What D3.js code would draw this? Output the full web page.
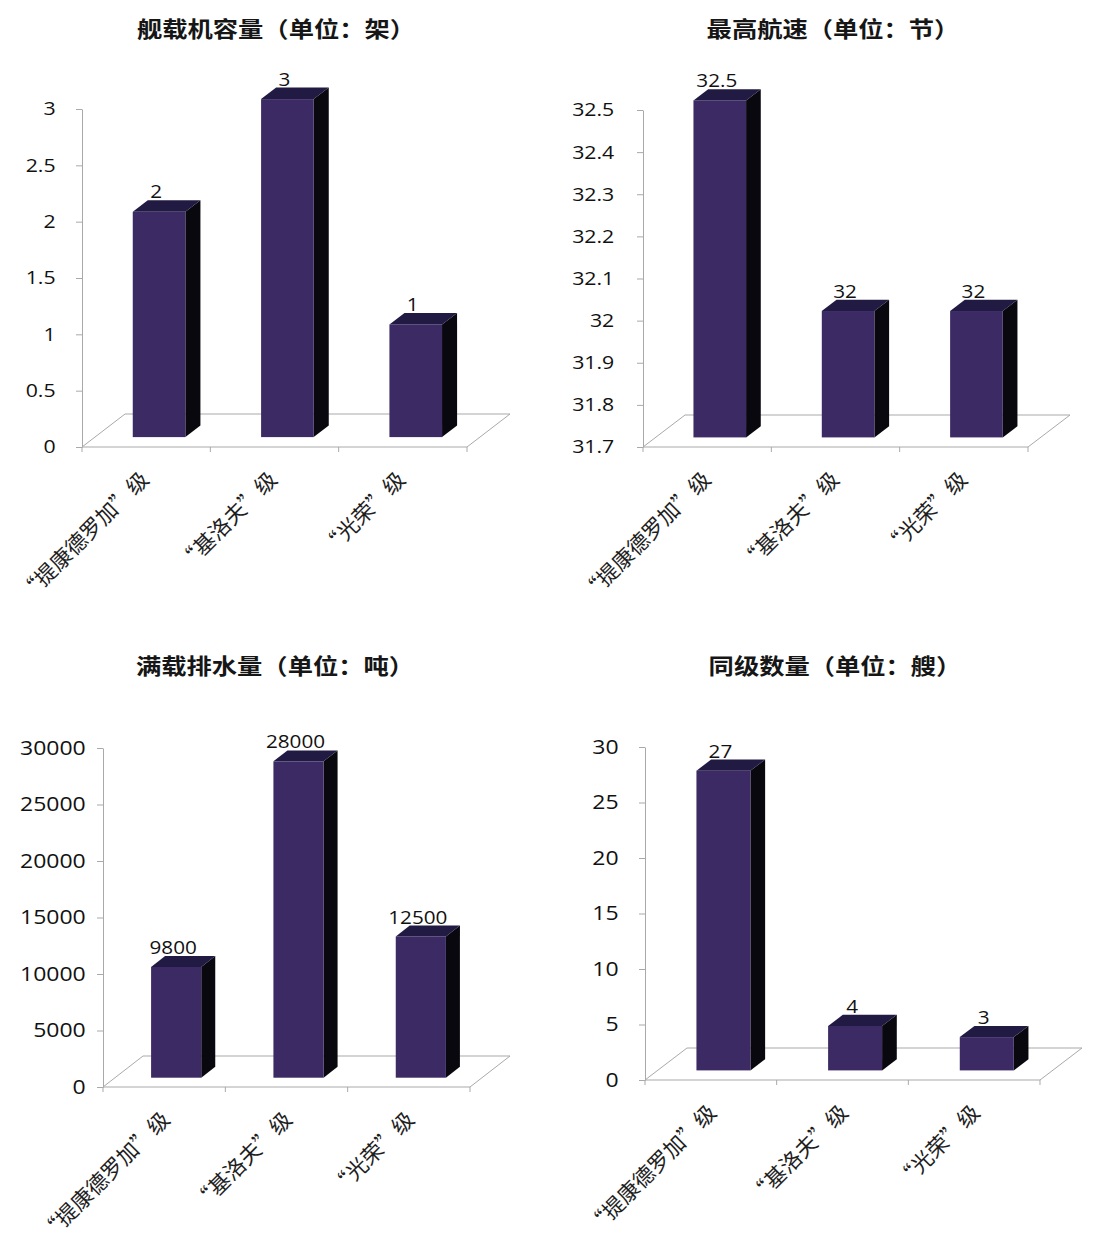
<!DOCTYPE html>
<html>
<head>
<meta charset="utf-8">
<script src="https://cdn.jsdelivr.net/npm/d3@7"></script>
<style>
  html, body { margin: 0; padding: 0; background: #ffffff; }
  svg { display: block; }
  .num { font-family: "Open Sans", "Liberation Sans", sans-serif; fill: #111; font-weight: 500; }
  .cat { font-family: "Noto Sans CJK SC", sans-serif; fill: #1e1e1e; }
  .ttl { font-family: "Noto Sans CJK SC", sans-serif; font-weight: 700; fill: #161616; }
</style>
</head>
<body>
<svg id="chart" width="1093" height="1249"></svg>
<script>
// Ship classes compared in every panel
const categories = ["“提康德罗加”级", "“基洛夫”级", "“光荣”级"];

// Series values, one array per panel
const aircraftCapacity = [2, 3, 1];
const maxSpeed = [32.5, 32, 32];
const displacement = [9800, 28000, 12500];
const shipsInClass = [27, 4, 3];

// Value-axis tick labels
const aircraftTicks = [0, 0.5, 1, 1.5, 2, 2.5, 3];
const speedTicks = [31.7, 31.8, 31.9, 32, 32.1, 32.2, 32.3, 32.4, 32.5];
const displacementTicks = [0, 5000, 10000, 15000, 20000, 25000, 30000];
const shipsTicks = [0, 5, 10, 15, 20, 25, 30];

// Panel titles
const titles = ["舰载机容量（单位：架）", "最高航速（单位：节）", "满载排水量（单位：吨）", "同级数量（单位：艘）"];

const svg = d3.select("#chart");
const SX = 1.15;          // horizontal text stretch
const FRONT = "#3b2a64", TOP = "#211a42", SIDE = "#08080e";
const GRID = "#a9a9a9";

function drawPanel(cfg, values, ticks, title) {
  const g = svg.append("g");
  const { ax, y0, yTop, xRight, dx, dy } = cfg;

  const y = d3.scaleLinear().domain([ticks[0], ticks[ticks.length - 1]]).range([y0, yTop]);
  const x = d3.scaleBand().domain(categories).range([ax, xRight]);

  // floor of the 3-D plot area
  g.append("path")
    .attr("d", `M${ax},${y0} L${xRight},${y0} L${xRight + dx},${y0 + dy} L${ax + dx},${y0 + dy} Z`)
    .attr("fill", "none").attr("stroke", GRID).attr("stroke-width", 1);

  // category ticks at band edges
  const edges = categories.map(c => x(c)).concat([xRight]);
  g.selectAll("line.xt").data(edges).join("line")
    .attr("x1", d => d).attr("x2", d => d)
    .attr("y1", y0).attr("y2", y0 + 5)
    .attr("stroke", GRID);

  // value axis
  const yAxis = g.append("g")
    .attr("transform", `translate(${ax},0)`)
    .call(d3.axisLeft(y).tickValues(ticks).tickSize(6).tickSizeOuter(0)
      .tickPadding(cfg.pad).tickFormat(d => String(d)));
  yAxis.select(".domain").attr("stroke", GRID);
  yAxis.selectAll(".tick line").attr("stroke", GRID);
  yAxis.selectAll(".tick text")
    .attr("class", "num")
    .attr("font-size", cfg.tickFont)
    .attr("transform", `scale(${SX},1)`)
    .attr("fill", "#111");

  // 3-D columns
  const f = 0.3, sx = f * dx, sy = f * dy;
  const bdx = 0.35 * dx, bdy = 0.35 * dy;
  const bw = x.bandwidth() * 0.41;
  const bars = g.selectAll("g.bar").data(values.map((v, i) => ({ v, c: categories[i] }))).join("g");
  bars.each(function (d) {
    const b = d3.select(this);
    const l = x(d.c) + (x.bandwidth() - bw) / 2 + sx;
    const r = l + bw;
    const t = y(d.v) + sy;
    const bot = y0 + sy;
    b.append("path")
      .attr("d", `M${r},${t} L${r + bdx},${t + bdy} L${r + bdx},${bot + bdy} L${r},${bot} Z`)
      .attr("fill", SIDE);
    b.append("path")
      .attr("d", `M${l},${t} L${l + bdx},${t + bdy} L${r + bdx},${t + bdy} L${r},${t} Z`)
      .attr("fill", TOP);
    b.append("rect")
      .attr("x", l).attr("y", t).attr("width", bw).attr("height", bot - t)
      .attr("fill", FRONT);
    b.append("text")
      .attr("class", "num")
      .attr("font-size", cfg.valFont)
      .attr("text-anchor", "middle")
      .attr("transform", `translate(${l + bw / 2 - 3},${t + bdy - 2}) scale(${SX},1)`)
      .text(String(d.v));
  });

  // rotated category labels
  g.selectAll("text.cat").data(categories).join("text")
    .attr("class", "cat")
    .attr("font-size", cfg.catFont)
    .attr("text-anchor", "end")
    .attr("transform", c => `translate(${x(c) + x.bandwidth() / 2 + cfg.labDX},${y0 + cfg.labDY}) rotate(-45)`)
    .text(c => c);

  // panel title
  g.append("text")
    .attr("class", "ttl")
    .attr("font-size", 22)
    .attr("text-anchor", "middle")
    .attr("dominant-baseline", "central")
    .attr("transform", `translate(${cfg.tx},${cfg.ty}) scale(${SX},1)`)
    .text(title);
}

drawPanel({ ax: 82, y0: 447, yTop: 109, xRight: 467, dx: 43, dy: -33, pad: 17, tickFont: 18.5, valFont: 18,
            catFont: 21.5, labDX: 4, labDY: 34, tx: 276, ty: 28 }, aircraftCapacity, aircraftTicks, titles[0]);
drawPanel({ ax: 643, y0: 447, yTop: 110, xRight: 1028, dx: 42, dy: -32, pad: 19, tickFont: 18.5, valFont: 18,
            catFont: 21.5, labDX: 5, labDY: 34, tx: 833, ty: 28 }, maxSpeed, speedTicks, titles[1]);
drawPanel({ ax: 103, y0: 1087, yTop: 748, xRight: 470, dx: 40, dy: -31, pad: 9, tickFont: 20, valFont: 18,
            catFont: 21.5, labDX: 7, labDY: 34, tx: 275, ty: 665 }, displacement, displacementTicks, titles[2]);
drawPanel({ ax: 645, y0: 1080, yTop: 747, xRight: 1040, dx: 42, dy: -32, pad: 17, tickFont: 20, valFont: 18,
            catFont: 21.5, labDX: 7, labDY: 34, tx: 835, ty: 665 }, shipsInClass, shipsTicks, titles[3]);
</script>
</body>
</html>
